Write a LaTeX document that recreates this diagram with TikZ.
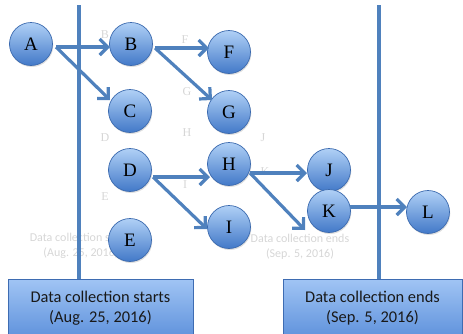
\documentclass[tikz,border=0pt]{standalone}
\usepackage{fontspec}
\setmainfont{Liberation Serif}
\newfontfamily\boxfont{Carlito}
\usetikzlibrary{arrows.meta,shadows}

\definecolor{linkblue}{HTML}{4F81BD}
\definecolor{ballTop}{HTML}{B0D0F6}
\definecolor{ballBot}{HTML}{4279C8}
\definecolor{ballEdge}{HTML}{3A69AE}
\definecolor{boxTop}{HTML}{A0C4F4}
\definecolor{boxBot}{HTML}{5F92DC}
\definecolor{boxEdge}{HTML}{3E6CB2}
\definecolor{ghostgray}{gray}{0.84}

\begin{document}
\begin{tikzpicture}[x=1pt,y=-1pt,
  ball/.style={circle, minimum size=43pt, inner sep=0pt, draw=ballEdge,
    line width=0.7pt, top color=ballTop, bottom color=ballBot,
    font=\fontsize{19}{19}\selectfont,
    drop shadow={shadow xshift=0.8pt, shadow yshift=-1.5pt, opacity=0.25}},
  arr/.style={draw=linkblue, line width=3.2pt,
    -{Straight Barb[length=8pt,width=16pt]}},
  timeline/.style={draw=linkblue, line width=3.2pt},
  datebox/.style={rectangle, draw=boxEdge, line width=0.8pt,
    top color=boxTop, bottom color=boxBot, anchor=north,
    minimum height=58pt, align=center,
    font=\boxfont\fontsize{16.4}{20}\selectfont, text=black!90},
  ghostletter/.style={text=ghostgray, font=\fontsize{12}{12}\selectfont},
  ghostlabel/.style={text=ghostgray, align=center,
    font=\boxfont\fontsize{12}{15}\selectfont}
]
\useasboundingbox (0,0) rectangle (463,333);
\clip (0,0) rectangle (463,333);

% faint labels in the background
\node[ghostletter] (gB) at (105,35) {B};
\node[ghostletter] (gF) at (185,40) {F};
\node[ghostletter] (gG) at (187,92) {G};
\node[ghostletter] (gD) at (105,138) {D};
\node[ghostletter] (gH) at (187,133) {H};
\node[ghostletter] (gJ) at (263,138) {J};
\node[ghostletter] (gK) at (265,172) {K};
\node[ghostletter] (gE) at (105,197) {E};
\node[ghostletter] (gI) at (185,185) {I};
\node[ghostlabel] (gStart) at (81,246) {Data collection starts\\(Aug. 25, 2016)};
\node[ghostlabel] (gEnd) at (300,247) {Data collection ends\\(Sep. 5, 2016)};

% date boxes
\node[datebox, minimum width=185pt] (start) at (100.5,279)
  {Data collection starts\\(Aug. 25, 2016)};
\node[datebox, minimum width=179pt] (stop) at (372.5,279)
  {Data collection ends\\(Sep. 5, 2016)};

% timeline markers
\coordinate (startTop) at (79,5);
\coordinate (stopTop) at (379,5);
\draw[timeline] (startTop) -- (startTop |- start.north);
\draw[timeline] (stopTop) -- (stopTop |- stop.north);

% events
\node[ball] (A) at (31,44) {A};
\node[ball] (B) at (131,44) {B};
\node[ball] (C) at (130,111) {C};
\node[ball] (F) at (229,52) {F};
\node[ball] (G) at (229,112) {G};
\node[ball] (D) at (130,170) {D};
\node[ball] (H) at (229,164) {H};
\node[ball] (I) at (229,227) {I};
\node[ball] (J) at (329,170) {J};
\node[ball] (K) at (329,211) {K};
\node[ball] (L) at (428,212) {L};
\node[ball] (E) at (130,240) {E};

% dependencies
\draw[arr] ([shift={(25,3)}]A.center) -- ([shift={(-21,3)}]B.center);
\draw[arr] ([shift={(25,3)}]A.center) -- ([shift={(-20,-11)}]C.center);
\draw[arr] ([shift={(24,4)}]B.center) -- ([shift={(-20,-4)}]F.center);
\draw[arr] ([shift={(24,4)}]B.center) -- ([shift={(-17,-12)}]G.center);
\draw[arr] ([shift={(23,7)}]D.center) -- ([shift={(-19,13)}]H.center);
\draw[arr] ([shift={(23,7)}]D.center) -- ([shift={(-22,2)}]I.center);
\draw[arr] ([shift={(21,9)}]H.center) -- ([shift={(-22,3)}]J.center);
\draw[arr] ([shift={(21,9)}]H.center) -- ([shift={(-24,19)}]K.center);
\draw[arr] ([shift={(21,-4)}]K.center) -- ([shift={(-21,-5)}]L.center);
\end{tikzpicture}
\end{document}
